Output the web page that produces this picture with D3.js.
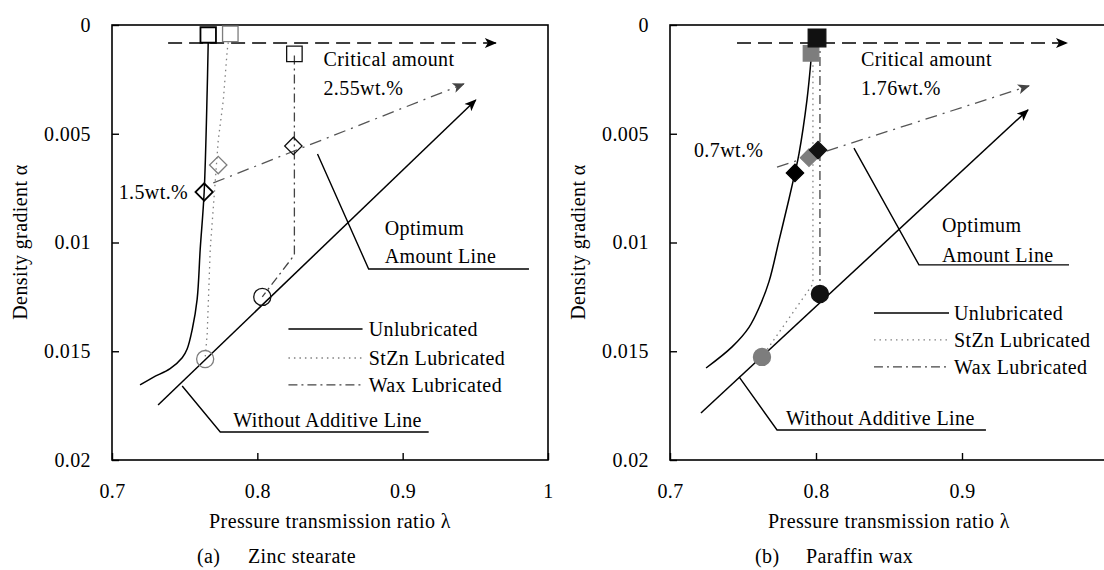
<!DOCTYPE html>
<html>
<head>
<meta charset="utf-8">
<script src="https://cdn.jsdelivr.net/npm/d3@7"></script>
<style>
  body { margin: 0; background: #fff; }
  text { font-family: 'Liberation Serif', 'Times New Roman', serif; font-size: 20px; fill: #000; letter-spacing: 0.4px; }
</style>
</head>
<body>
<div id="wrapper"></div>
<script>
// axis ticks
const xTicks = [0.7, 0.8, 0.9, 1]
const xTickLabels = ["0.7", "0.8", "0.9", "1"]
const yTicks = [0, 0.005, 0.01, 0.015, 0.02]
const yTickLabels = ["0", "0.005", "0.01", "0.015", "0.02"]
const seriesNames = ["Unlubricated", "StZn Lubricated", "Wax Lubricated"]

// (a) zinc stearate
const aUnlub = [[0.7662,0.0008],[0.7655,0.0030],[0.7634,0.0077],[0.7607,0.0103],[0.7586,0.0126],[0.7552,0.0140],[0.7517,0.0149],[0.7483,0.0153],[0.7400,0.0158],[0.7283,0.0162],[0.7193,0.01655]]
const aStZn = [[0.7800,0.0008],[0.7793,0.00115],[0.7766,0.00345],[0.7731,0.0053],[0.7697,0.0084],[0.7676,0.0103],[0.7655,0.0142],[0.7641,0.0153]]
const aWax = [[0.8255,0.0014],[0.8255,0.01057],[0.8034,0.0125]]
const aOptimum = [[0.7697,0.00726],[0.9421,0.00271]]
const aCritical = [[0.7386,0.00083],[0.9641,0.00083]]
const aWithout = [[0.7317,0.01747],[0.9503,0.00345]]
const aPoints = [
  {s: 0, shape: "square", x: 0.7662, y: 0.00046},
  {s: 1, shape: "square", x: 0.7814, y: 0.00041},
  {s: 2, shape: "square", x: 0.8255, y: 0.00133},
  {s: 0, shape: "diamond", x: 0.7634, y: 0.00768},
  {s: 1, shape: "diamond", x: 0.7731, y: 0.00644},
  {s: 2, shape: "diamond", x: 0.8248, y: 0.00556},
  {s: 2, shape: "circle", x: 0.8034, y: 0.0125},
  {s: 1, shape: "circle", x: 0.7641, y: 0.01536}
]
const aNotes = [
  {text: "Critical amount", x: 0.8455, y: 0.00189},
  {text: "2.55wt.%", x: 0.8455, y: 0.00322},
  {text: "1.5wt.%", x: 0.7524, y: 0.0080, anchor: "end"},
  {text: "Optimum", x: 0.8876, y: 0.00966},
  {text: "Amount Line", x: 0.8876, y: 0.01094},
  {text: "Without Additive Line", x: 0.7834, y: 0.01848}
]
const aLeaders = [
  [[0.8414,0.00593],[0.8766,0.01122],[0.9869,0.01122]],
  [[0.7483,0.0166],[0.7745,0.01871],[0.9179,0.01871]]
]
const aLegend = {x: [0.8214, 0.8724], y: [0.01398, 0.01531, 0.01655], tx: 0.8766}

// (b) paraffin wax
const bUnlub = [[0.7966,0.0016],[0.7938,0.00345],[0.7884,0.0059],[0.7856,0.0068],[0.7815,0.0080],[0.7747,0.0099],[0.7678,0.0118],[0.7610,0.0130],[0.7541,0.0139],[0.7425,0.0148],[0.7247,0.01577]]
const bStZn = [[0.7979,0.0016],[0.7979,0.0119],[0.7630,0.01526]]
const bWax = [[0.8027,0.0006],[0.8027,0.01237]]
const bOptimum = [[0.7733,0.00653],[0.9459,0.0028]]
const bCritical = [[0.7459,0.00083],[0.9719,0.00083]]
const bWithout = [[0.7212,0.01784],[0.9452,0.0039]]
const bPoints = [
  {s: 1, shape: "square", x: 0.7966, y: 0.0013},
  {s: 2, shape: "square", x: 0.8007, y: 0.0006},
  {s: 0, shape: "diamond", x: 0.7856, y: 0.0068},
  {s: 1, shape: "diamond", x: 0.7952, y: 0.0061},
  {s: 2, shape: "diamond", x: 0.8014, y: 0.00575},
  {s: 2, shape: "circle", x: 0.8027, y: 0.01237},
  {s: 1, shape: "circle", x: 0.7630, y: 0.01526}
]
const bNotes = [
  {text: "Critical amount", x: 0.8308, y: 0.00189},
  {text: "1.76wt.%", x: 0.8308, y: 0.00322},
  {text: "0.7wt.%", x: 0.7164, y: 0.00607},
  {text: "Optimum", x: 0.8863, y: 0.00952},
  {text: "Amount Line", x: 0.8863, y: 0.0109},
  {text: "Without Additive Line", x: 0.7795, y: 0.01839}
]
const bLeaders = [
  [[0.826,0.00566],[0.8705,0.01103],[0.9733,0.01103]],
  [[0.7473,0.01618],[0.7733,0.01862],[0.9164,0.01862]]
]
const bLegend = {x: [0.8397, 0.8911], y: [0.01324, 0.01448, 0.01572], tx: 0.8945}

const width = 1104, height = 570
const plotTop = 25, plotBottom = 460

const svg = d3.select("#wrapper").append("svg")
  .attr("width", width).attr("height", height)
  .style("display", "block")

const defs = svg.append("defs")
function arrowMarker(id, color) {
  defs.append("marker")
    .attr("id", id)
    .attr("viewBox", "0 0 12 10")
    .attr("refX", 11).attr("refY", 5)
    .attr("markerUnits", "userSpaceOnUse")
    .attr("markerWidth", 13).attr("markerHeight", 10)
    .attr("orient", "auto")
    .append("path").attr("d", "M0,0 L12,5 L0,10 L3,5 Z").attr("fill", color)
}
arrowMarker("arrBlack", "#000")
arrowMarker("arrGrey", "#444")

const lineStyles = [
  {stroke: "#000", width: 1.5, dash: null},
  {stroke: "#808080", width: 1.3, dash: "1.5,4"},
  {stroke: "#444", width: 1.3, dash: "9,4,2,4"}
]
const markerColors = ["#000", "#7d7d7d", "#111"]

function drawPanel(p) {
  const g = svg.append("g")
  const x = d3.scaleLinear().domain([0.7, 1]).range([p.x0, p.x1])
  const y = d3.scaleLinear().domain([0, 0.02]).range([plotTop, plotBottom])
  const line = d3.line().x(d => x(d[0])).y(d => y(d[1]))
  const smooth = d3.line().x(d => x(d[0])).y(d => y(d[1])).curve(d3.curveCatmullRom)

  // frame
  g.append("rect")
    .attr("x", x(0.7)).attr("y", y(0))
    .attr("width", x(1) - x(0.7)).attr("height", y(0.02) - y(0))
    .attr("fill", "none").attr("stroke", "#000").attr("stroke-width", 1.6)

  const yAxis = d3.axisLeft(y).tickValues(yTicks)
    .tickFormat((d, i) => yTickLabels[i])
    .tickSizeInner(-7).tickSizeOuter(0).tickPadding(21)
  const ya = g.append("g").attr("transform", `translate(${x(0.7)},0)`).call(yAxis)
  const xAxis = d3.axisBottom(x).tickValues(xTicks.slice(0, p.xTickCount))
    .tickFormat((d, i) => xTickLabels[i])
    .tickSizeInner(-7).tickSizeOuter(0).tickPadding(24)
  const xa = g.append("g").attr("transform", `translate(0,${y(0.02)})`).call(xAxis)
  for (const a of [xa, ya]) {
    a.attr("font-family", null).attr("font-size", null)
    a.select(".domain").remove()
    a.selectAll(".tick line").attr("stroke", "#000").attr("stroke-width", 1.4)
  }

  // axis titles
  g.append("text")
    .attr("transform", `translate(${x(0.7) - 85},242) rotate(-90)`)
    .attr("text-anchor", "middle")
    .text("Density gradient α")
  g.append("text")
    .attr("x", (x(0.7) + x(1)) / 2).attr("y", 528)
    .attr("text-anchor", "middle")
    .text("Pressure transmission ratio λ")
  g.append("text").attr("x", x(0.7) + 85).attr("y", 563).text(p.tag)
  g.append("text").attr("x", x(0.7) + 136).attr("y", 563).text(p.caption)

  // reference lines
  g.append("path").attr("d", line(p.without))
    .attr("fill", "none").attr("stroke", "#000").attr("stroke-width", 1.5)
    .attr("marker-end", "url(#arrBlack)")
  g.append("path").attr("d", line(p.critical))
    .attr("fill", "none").attr("stroke", "#000").attr("stroke-width", 1.4)
    .attr("stroke-dasharray", "14,7")
    .attr("marker-end", "url(#arrBlack)")
  g.append("path").attr("d", line(p.optimum))
    .attr("fill", "none").attr("stroke", "#555").attr("stroke-width", 1.3)
    .attr("stroke-dasharray", "12,6,2,6")
    .attr("marker-end", "url(#arrGrey)")

  // leader lines
  p.leaders.forEach(l => {
    g.append("path").attr("d", line(l))
      .attr("fill", "none").attr("stroke", "#000").attr("stroke-width", 1.4)
  })

  // series
  p.series.forEach((s, i) => {
    const st = lineStyles[i]
    g.append("path").attr("d", (i === 0 ? smooth : line)(s))
      .attr("fill", "none").attr("stroke", st.stroke).attr("stroke-width", st.width)
      .attr("stroke-dasharray", st.dash)
  })

  // markers
  const sym = {square: d3.symbolSquare, diamond: d3.symbolSquare, circle: d3.symbolCircle}
  const area = {square: 240, diamond: 150, circle: 230}
  g.selectAll(".pt").data(p.points).enter().append("path")
    .attr("class", "pt")
    .attr("transform", d => `translate(${x(d.x)},${y(d.y)})` + (d.shape === "diamond" ? " rotate(45)" : ""))
    .attr("d", d => d3.symbol(sym[d.shape], (p.filled && d.s === 2 && d.shape === "square") ? 310 : area[d.shape])())
    .attr("fill", d => p.filled ? markerColors[d.s] : "none")
    .attr("stroke", d => markerColors[d.s])
    .attr("stroke-width", d => (!p.filled && d.s === 0) ? 1.8 : 1.3)

  // notes
  p.notes.forEach(n => {
    g.append("text").attr("x", x(n.x)).attr("y", y(n.y))
      .attr("text-anchor", n.anchor || "start").text(n.text)
  })

  // legend
  seriesNames.forEach((name, i) => {
    const st = lineStyles[i]
    g.append("line")
      .attr("x1", x(p.legend.x[0])).attr("x2", x(p.legend.x[1]))
      .attr("y1", y(p.legend.y[i])).attr("y2", y(p.legend.y[i]))
      .attr("stroke", st.stroke).attr("stroke-width", st.width)
      .attr("stroke-dasharray", st.dash)
    g.append("text").attr("x", x(p.legend.tx)).attr("y", y(p.legend.y[i]))
      .attr("dy", "0.33em").text(name)
  })
}

drawPanel({
  x0: 112, x1: 548, tag: "(a)", caption: "Zinc stearate", filled: false, xTickCount: 4,
  series: [aUnlub, aStZn, aWax], optimum: aOptimum, critical: aCritical, without: aWithout,
  points: aPoints, notes: aNotes, leaders: aLeaders, legend: aLegend
})
drawPanel({
  x0: 670, x1: 1108, tag: "(b)", caption: "Paraffin wax", filled: true, xTickCount: 3,
  series: [bUnlub, bStZn, bWax], optimum: bOptimum, critical: bCritical, without: bWithout,
  points: bPoints, notes: bNotes, leaders: bLeaders, legend: bLegend
})
</script>
</body>
</html>
